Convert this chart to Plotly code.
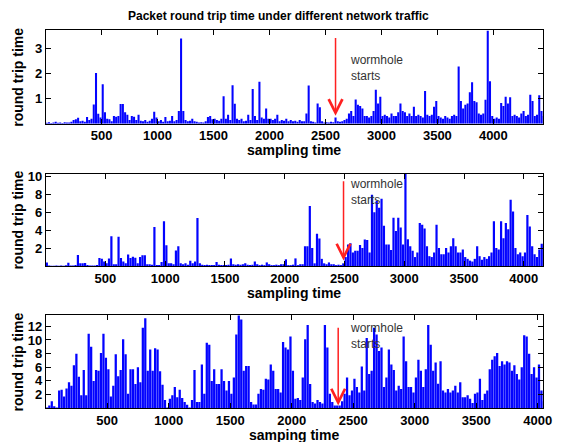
import plotly.graph_objects as go

# ---------------- data (max round trip time per 20-sample bin) ----------------
BIN = 20

rtt_light = [
    0.04, 0.06, 0.03, 0.05, 0.08, 0.04, 0.05, 0.03, 0.06, 0.05,
    0.05, 0.08, 0.15, 0.18, 0.24, 0.1, 0.12, 0.08, 0.27, 0.15,
    0.2, 0.76, 2.02, 0.39, 0.25, 1.57, 0.45, 0.2, 0.18, 0.1,
    0.3, 0.28, 0.3, 0.78, 0.78, 0.45, 0.35, 0.15, 0.3, 0.28,
    0.15, 0.35, 0.12, 0.1, 0.15, 0.08, 0.12, 0.2, 0.47, 0.25,
    0.1, 0.15, 0.08, 0.27, 0.1, 0.12, 0.3, 0.1, 0.15, 0.5,
    3.4, 0.5, 0.15, 0.1, 0.12, 0.2, 0.1, 0.08, 0.05, 0.06,
    0.05, 0.1, 0.27, 0.3, 0.18, 0.2, 0.15, 0.12, 0.2, 1.09,
    0.2, 0.35, 0.15, 1.53, 0.79, 0.2, 0.15, 0.2, 0.1, 0.12,
    0.35, 0.15, 1.38, 0.3, 0.15, 1.67, 0.25, 0.2, 0.6, 0.2,
    0.2, 0.15, 0.2, 0.35, 0.1, 0.15, 0.12, 0.2, 0.1, 0.15,
    0.1, 0.12, 0.08, 0.15, 0.1, 0.1, 0.4, 1.52, 0.1, 0.08,
    0.05, 0.8, 0.65, 0.1, 0.05, 0.06, 0.05, 0.08, 0.06, 0.25,
    0.1, 0.08, 0.1, 0.15, 0.2, 0.4, 0.5, 0.3, 0.96, 0.75,
    0.7, 0.6, 0.3, 0.3, 0.25, 0.3, 0.5, 1.35, 0.8, 1.07,
    0.3, 0.35, 0.3, 0.25, 0.4, 0.3, 0.3, 0.45, 0.8, 0.5,
    0.45, 0.3, 0.4, 0.3, 0.67, 0.3, 0.35, 0.3, 0.25, 1.3,
    0.35, 0.3, 0.35, 0.67, 0.9, 0.3, 0.25, 0.2, 0.3, 0.25,
    0.2, 0.3, 0.35, 0.3, 2.28, 0.9, 0.6, 0.75, 0.8, 1.25,
    1.65, 0.9, 0.85, 0.4, 0.35, 0.4, 0.95, 3.72, 1.69, 0.3,
    0.2, 0.25, 0.2, 0.82, 0.7, 1.07, 0.8, 1.05, 0.3, 0.35,
    0.3, 0.25, 0.4, 0.5, 0.3, 0.35, 1.15, 0.9, 0.3, 0.35,
    1.13, 0.5, 0.3,
]

rtt_medium = [
    0.4, 0.05, 0.03, 0.04, 0.05, 0.03, 0.05, 0.04, 0.08, 0.37,
    0.05, 0.06, 0.1, 1.22, 0.3, 0.3, 0.35, 0.1, 0.05, 0.06,
    0.05, 0.1, 0.9, 0.8, 0.5, 0.3, 0.85, 3.33, 0.2, 0.2,
    3.26, 0.9, 0.5, 0.3, 1.29, 0.9, 1.03, 0.92, 0.3, 1.0,
    1.2, 1.2, 0.2, 0.2, 0.15, 4.37, 0.1, 0.1, 0.45, 5.0,
    2.33, 0.3, 0.3, 0.2, 1.74, 2.22, 0.3, 0.2, 0.3, 0.15,
    0.6, 0.3, 0.5, 5.37, 0.3, 0.15, 0.1, 0.15, 0.1, 0.1,
    0.1, 0.45, 0.15, 0.1, 0.12, 0.1, 0.15, 0.85, 0.2, 0.15,
    0.2, 0.15, 0.2, 0.3, 0.15, 0.1, 0.15, 0.5, 0.2, 0.1,
    0.15, 0.1, 0.4, 0.2, 0.1, 0.1, 0.15, 0.1, 0.2, 0.2,
    0.75, 0.1, 0.1, 0.15, 0.85, 0.1, 0.2, 0.2, 2.2, 2.2,
    6.7, 2.0, 0.3, 3.6, 3.07, 0.8, 0.3, 0.2, 0.4, 0.2,
    0.2, 0.1, 0.15, 0.1, 0.3, 1.0, 2.4, 2.55, 1.5, 1.7,
    1.7, 2.35, 2.0, 2.95, 2.9, 1.5, 7.96, 6.0, 7.3, 6.5,
    7.5, 4.5, 2.4, 2.4, 1.8, 5.4, 3.9, 5.4, 4.3, 2.4,
    10.3, 3.0, 2.2, 1.7, 1.0, 1.5, 4.8, 4.6, 4.2, 2.2,
    1.1, 1.0, 1.5, 4.6, 2.0, 1.3, 1.3, 2.0, 1.5, 2.2,
    3.1, 2.2, 1.5, 1.5, 1.85, 1.0, 0.8, 0.6, 0.5, 0.8,
    2.2, 1.1, 0.7, 1.0, 0.8, 1.1, 1.5, 5.0, 2.0, 1.85,
    5.0, 3.1, 4.8, 4.1, 7.4, 6.1, 2.0, 1.3, 1.5, 1.1,
    1.5, 5.7, 4.4, 2.2, 1.3, 1.0, 1.85, 2.5, 1.0,
]

rtt_heavy = [
    0.1, 0.4, 1.0, 0.3, 0.1, 2.6, 2.7, 1.7, 2.9, 3.8,
    3.3, 6.3, 8.0, 4.6, 1.9, 5.6, 1.9, 10.9, 9.0, 4.0,
    5.6, 5.5, 8.1, 10.9, 7.4, 5.7, 1.7, 3.3, 7.9, 4.7,
    5.6, 10.1, 7.9, 2.1, 5.7, 5.7, 3.55, 6.0, 3.8, 11.8,
    13.2, 5.5, 8.6, 5.5, 8.8, 8.6, 5.4, 3.45, 1.2, 0.1,
    1.4, 1.9, 3.1, 1.6, 2.7, 1.5, 0.9, 0.5, 0.1, 1.2,
    5.6, 0.9, 0.9, 6.4, 2.1, 9.6, 9.3, 4.0, 5.7, 3.55,
    3.55, 5.7, 4.0, 2.6, 4.0, 2.1, 4.5, 10.8, 13.7, 13.0,
    5.5, 6.2, 6.2, 0.9, 0.55, 0.55, 2.1, 2.8, 2.7, 4.3,
    4.2, 6.4, 5.5, 2.8, 2.8, 2.3, 9.7, 8.9, 8.6, 10.5,
    5.5, 1.4, 1.5, 1.2, 4.5, 10.1, 12.2, 3.55, 0.9, 0.7,
    1.2, 0.9, 0.7, 12.2, 8.9, 2.1, 0.9, 0.4, 0.4, 0.4,
    1.0, 2.1, 4.5, 1.9, 2.6, 4.3, 3.1, 2.3, 6.1, 2.6,
    10.3, 5.0, 5.5, 11.8, 10.8, 8.4, 8.9, 3.1, 4.5, 8.6,
    6.4, 5.6, 2.6, 3.3, 2.8, 10.5, 6.9, 3.1, 3.1, 2.3,
    4.5, 7.1, 5.5, 3.1, 5.7, 12.2, 9.3, 5.5, 6.7, 3.6,
    6.9, 2.6, 2.3, 2.8, 2.3, 2.6, 3.3, 2.3, 3.8, 1.6,
    1.6, 1.9, 1.4, 0.75, 2.1, 2.3, 4.3, 1.2, 2.1, 2.6,
    5.7, 7.1, 7.6, 8.1, 6.2, 6.9, 6.4, 6.9, 6.7, 5.5,
    6.3, 5.0, 4.2, 6.0, 10.7, 10.5, 8.0, 5.0, 6.0, 4.5,
    6.4, 2.6, 1.0,
]

series = [rtt_light, rtt_medium, rtt_heavy]
x_max = [4445, 4162, 4044]
y_max = [3.72, 10.3, 13.6]
x_tickvals = [500, 1000, 1500, 2000, 2500, 3000, 3500, 4000]
y_tickvals = [[1, 2, 3], [2, 4, 6, 8, 10], [2, 4, 6, 8, 10, 12]]
x_titles = ["sampling time", "sampling time", "samping time"]
y_title = "round trip time"
main_title = "Packet round trip time under different network traffic"
note_text = "wormhole<br>starts"
wormhole_x = [2590, 2492, 2378]
arrow_tail_y = [3.48, 9.62, 12.0]
arrow_tip_y = [0.31, 0.62, 0.4]

# ---------------- layout geometry (pixels) ----------------
W, H = 562, 442
LEFT, RIGHT = 46.5, 552
panels_px = [(25.7, 120.0), (170.7, 264.0), (314.0, 407.8)]  # top, bottom
xlabel_y_px = [146.7, 291.7, 435.0]
note_top_px = [47, 172, 318]
NOTE_LEFT = 354

FONT = "Liberation Sans, Arial, Helvetica, sans-serif"

fig = go.Figure()
layout = dict(
    width=W, height=H, margin=dict(l=0, r=0, t=0, b=0),
    paper_bgcolor="white", plot_bgcolor="white", showlegend=False,
    bargap=0.08, annotations=[],
)

for i, vals in enumerate(series):
    n = i + 1
    xs = [BIN * k + BIN / 2 for k in range(len(vals))]
    fig.add_trace(go.Bar(
        x=xs, y=vals, xaxis=f"x{n}", yaxis=f"y{n}",
        marker=dict(color="rgba(0,0,255,0.99)", line=dict(width=0)),
    ))
    top, bot = panels_px[i]
    axcommon = dict(showline=True, linecolor="black", linewidth=1, mirror="ticks",
                    ticks="inside", ticklen=5, tickwidth=1, tickcolor="black",
                    showgrid=False, zeroline=False,
                    tickfont=dict(family=FONT, size=13, color="black", weight="bold"))
    layout[f"xaxis{n}"] = dict(axcommon, domain=[LEFT / W, RIGHT / W],
                               range=[1, x_max[i]], tickvals=x_tickvals,
                               anchor=f"y{n}")
    layout[f"yaxis{n}"] = dict(axcommon, domain=[1 - bot / H, 1 - top / H],
                               range=[0, y_max[i]], tickvals=y_tickvals[i],
                               anchor=f"x{n}")
    layout["annotations"].append(dict(
        text=x_titles[i], xref="paper", yref="paper",
        x=(LEFT + RIGHT) / 2 / W, y=1 - xlabel_y_px[i] / H,
        xanchor="center", yanchor="middle", showarrow=False,
        font=dict(family=FONT, size=14, color="black", weight="bold")))
    layout["annotations"].append(dict(
        text=y_title, xref="paper", yref="paper", textangle=-90,
        x=18 / W, y=1 - (top + bot) / 2 / H,
        xanchor="center", yanchor="middle", showarrow=False,
        font=dict(family=FONT, size=14, color="black", weight="bold")))
    layout["annotations"].append(dict(
        text="", xref=f"x{n}", yref=f"y{n}", axref=f"x{n}", ayref=f"y{n}",
        x=wormhole_x[i], y=arrow_tip_y[i], ax=wormhole_x[i], ay=arrow_tail_y[i],
        showarrow=True, arrowhead=5, arrowsize=1.8, arrowwidth=1.5,
        arrowcolor="#ff2020"))
    layout["annotations"].append(dict(
        text=note_text, xref="paper", yref="paper",
        x=NOTE_LEFT / W, y=1 - note_top_px[i] / H,
        xanchor="left", yanchor="top", align="left", showarrow=False,
        font=dict(family=FONT, size=12, color="#333333")))

layout["annotations"].append(dict(
    text=main_title, xref="paper", yref="paper", x=283 / W, y=1 - 11.5 / H,
    xanchor="center", yanchor="middle", showarrow=False,
    font=dict(family=FONT, size=12, color="black", weight="bold")))

fig.update_layout(**layout)
fig.write_html("out.html")
